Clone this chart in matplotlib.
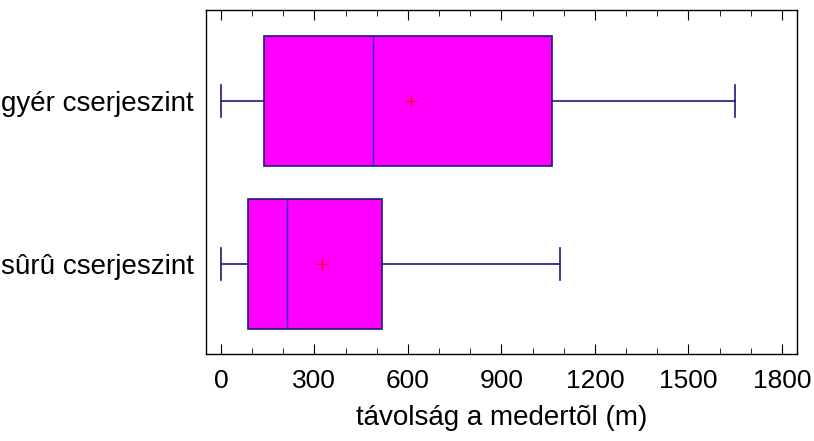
import matplotlib
matplotlib.use("Agg")
import matplotlib.pyplot as plt
from matplotlib.ticker import MultipleLocator

# data (metres)
labels = ["sûrû cserjeszint", "gyér cserjeszint"]
whisker_lo = [0, 0]
q1 = [87, 139]
medians = [213, 487]
q3 = [516, 1063]
whisker_hi = [1088, 1650]
means = [324, 610]

plt.rcParams['font.family'] = ['Liberation Sans', 'DejaVu Sans']

fig = plt.figure(figsize=(8.14, 4.41), dpi=100)
ax = fig.add_axes([0.253, 0.197, 0.726, 0.78])

stats = []
for i in range(len(labels)):
    stats.append({
        'label': labels[i],
        'whislo': whisker_lo[i], 'q1': q1[i], 'med': medians[i],
        'q3': q3[i], 'whishi': whisker_hi[i], 'mean': means[i],
        'fliers': [],
    })

edge = '#1a1a80'
ax.bxp(stats, positions=[0, 1], orientation='horizontal', widths=0.8,
       patch_artist=True, showmeans=True, showfliers=False,
       boxprops=dict(facecolor='#ff00ff', edgecolor=edge, linewidth=1.2),
       medianprops=dict(color='#2a2ad0', linewidth=1.0),
       whiskerprops=dict(color=edge, linewidth=1.2),
       capprops=dict(color=edge, linewidth=1.2),
       capwidths=0.2,
       meanprops=dict(marker='+', markeredgecolor='red', markersize=8, markeredgewidth=0.8))

ax.set_xlim(-48, 1848)
ax.set_ylim(-0.552, 1.558)
ax.xaxis.set_major_locator(MultipleLocator(300))
ax.xaxis.set_minor_locator(MultipleLocator(100))
ax.tick_params(axis='x', which='both', direction='in', top=True, labelsize=19, pad=11)
ax.tick_params(axis='x', which='major', length=7)
ax.tick_params(axis='x', which='minor', length=4)
ax.tick_params(axis='y', length=0, labelsize=20, pad=9)
ax.set_xlabel("távolság a medertõl (m)", fontsize=20, labelpad=8)

for s in ax.spines.values():
    s.set_linewidth(1.0)

fig.savefig("out.png", dpi=100)
